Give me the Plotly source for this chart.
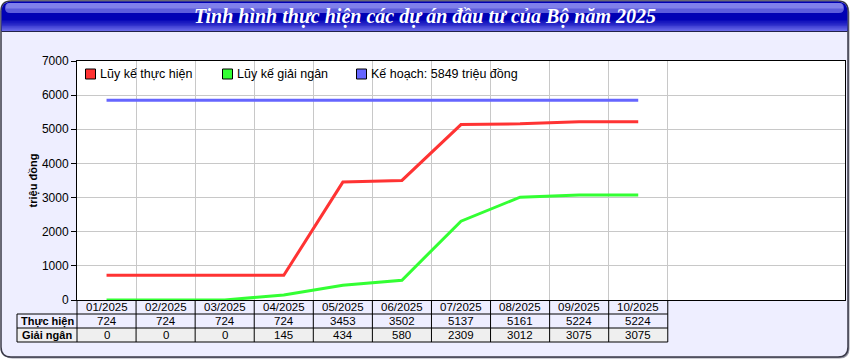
import plotly.graph_objects as go

# ---------------- data ----------------
months = ["01/2025", "02/2025", "03/2025", "04/2025", "05/2025",
          "06/2025", "07/2025", "08/2025", "09/2025", "10/2025"]
thuc_hien = [724, 724, 724, 724, 3453, 3502, 5137, 5161, 5224, 5224]
giai_ngan = [0, 0, 0, 145, 434, 580, 2309, 3012, 3075, 3075]
ke_hoach = [5849, 5849, 5849, 5849, 5849, 5849, 5849, 5849, 5849, 5849]
ke_hoach_total = 5849

series_names = ["Lũy kế thực hiện", "Lũy kế giải ngân", f"Kế hoạch: {ke_hoach_total} triệu đồng"]
row_labels = ["Thực hiện", "Giải ngân"]
title_text = "Tinh hình thực hiện các dự án đầu tư của Bộ năm 2025"
y_title = "triệu đồng"
y_ticks = [0, 1000, 2000, 3000, 4000, 5000, 6000, 7000]

# ---------------- layout geometry ----------------
W, H = 850, 360
PLOT_L, PLOT_R, PLOT_T, PLOT_B = 77, 845, 61, 300
XR = (-0.5, 12.5)
FONT = "Arial, Liberation Sans, sans-serif"
colors = ["#ff3333", "#33ff33", "#6666ff"]

def fx(x):
    return x / W

def fy(y):
    return 1 - y / H

def cat_px(v):
    return PLOT_L + (v - XR[0]) / (XR[1] - XR[0]) * (PLOT_R - PLOT_L)

def rpath(x0, y0, x1, y1, r, top=True, bottom=True):
    p = []
    if top:
        p.append(f"M{fx(x0+r)},{fy(y0)} L{fx(x1-r)},{fy(y0)} Q{fx(x1)},{fy(y0)} {fx(x1)},{fy(y0+r)}")
    else:
        p.append(f"M{fx(x0)},{fy(y0)} L{fx(x1)},{fy(y0)}")
    if bottom:
        p.append(f"L{fx(x1)},{fy(y1-r)} Q{fx(x1)},{fy(y1)} {fx(x1-r)},{fy(y1)} L{fx(x0+r)},{fy(y1)} Q{fx(x0)},{fy(y1)} {fx(x0)},{fy(y1-r)}")
    else:
        p.append(f"L{fx(x1)},{fy(y1)} L{fx(x0)},{fy(y1)}")
    if top:
        p.append(f"L{fx(x0)},{fy(y0+r)} Q{fx(x0)},{fy(y0)} {fx(x0+r)},{fy(y0)} Z")
    else:
        p.append("Z")
    return " ".join(p)

def mix(c1, c2, t):
    return "rgb(" + ",".join(str(round(a + (b - a) * t)) for a, b in zip(c1, c2)) + ")"

shapes = []
# frame shadow + frame
shapes.append(dict(type="path", xref="paper", yref="paper", layer="below",
                   path=rpath(2.5, 2.5, 849.5, 358.5, 10), fillcolor="#9a9aa8", line=dict(width=0)))
shapes.append(dict(type="path", xref="paper", yref="paper", layer="below",
                   path=rpath(1, 1, 848, 357, 10), fillcolor="#eeeeff", line=dict(color="#3a3a48", width=1.5)))
# white plot area
shapes.append(dict(type="rect", xref="paper", yref="paper", layer="below",
                   x0=fx(PLOT_L), x1=fx(PLOT_R), y0=fy(PLOT_B), y1=fy(PLOT_T),
                   fillcolor="white", line=dict(width=0)))
# title bar body
shapes.append(dict(type="path", xref="paper", yref="paper", layer="below",
                   path=rpath(1.5, 1.5, 847.5, 31, 10, bottom=False), fillcolor="#0000b4", line=dict(width=0)))
# lower gradient of title bar
dark, light = (0, 0, 180), (104, 104, 232)
n = 10
for k in range(n):
    y0 = 20 + k * 11 / n
    shapes.append(dict(type="rect", xref="paper", yref="paper", layer="below",
                       x0=fx(2), x1=fx(847), y0=fy(y0), y1=fy(y0 + 11 / n + 0.3),
                       fillcolor=mix(dark, light, (k + 1) / n), line=dict(width=0)))
# top gloss
shapes.append(dict(type="path", xref="paper", yref="paper", layer="below",
                   path=rpath(5, 3, 844, 13, 5), fillcolor="#5c5cdc", line=dict(width=0)))
shapes.append(dict(type="path", xref="paper", yref="paper", layer="below",
                   path=rpath(6, 3, 843, 8.5, 4, bottom=False), fillcolor="#8080ea", line=dict(width=0)))
shapes.append(dict(type="line", xref="paper", yref="paper", layer="below",
                   x0=fx(1.5), x1=fx(847.5), y0=fy(31.5), y1=fy(31.5), line=dict(color="#22224a", width=1)))

# ---------------- table ----------------
ROW_Y = [300, 314, 328, 342]
LBL_L = 17
tab_r = cat_px(len(months) - 0.5)
shapes.append(dict(type="rect", xref="paper", yref="paper", layer="below",
                   x0=fx(LBL_L), x1=fx(tab_r), y0=fy(ROW_Y[2]), y1=fy(ROW_Y[3]),
                   fillcolor="#efefef", line=dict(width=0)))
for yy in ROW_Y[1:]:
    shapes.append(dict(type="line", xref="paper", yref="paper", x0=fx(LBL_L), x1=fx(tab_r),
                       y0=fy(yy), y1=fy(yy), line=dict(color="black", width=1)))
for i in range(len(months) + 1):
    xx = cat_px(i - 0.5)
    shapes.append(dict(type="line", xref="paper", yref="paper", x0=fx(xx), x1=fx(xx),
                       y0=fy(ROW_Y[0]), y1=fy(ROW_Y[3]), line=dict(color="black", width=1)))
shapes.append(dict(type="line", xref="paper", yref="paper", x0=fx(LBL_L), x1=fx(LBL_L),
                   y0=fy(ROW_Y[1]), y1=fy(ROW_Y[3]), line=dict(color="black", width=1)))

annotations = []
rows = [months, [str(v) for v in thuc_hien], [str(v) for v in giai_ngan]]
for r, vals in enumerate(rows):
    yc = (ROW_Y[r] + ROW_Y[r + 1]) / 2
    for m, txt in zip(months, vals):
        annotations.append(dict(x=m, xref="x", y=fy(yc), yref="paper", text=txt, showarrow=False,
                                xanchor="center", yanchor="middle",
                                font=dict(family=FONT, size=11.5, color="black")))
for r, lbl in enumerate(row_labels):
    yc = (ROW_Y[r + 1] + ROW_Y[r + 2]) / 2
    annotations.append(dict(x=fx((LBL_L + PLOT_L) / 2), xref="paper", y=fy(yc), yref="paper",
                            text=f"<b>{lbl}</b>", showarrow=False, xanchor="center", yanchor="middle",
                            font=dict(family=FONT, size=11, color="black")))
# title
annotations.append(dict(x=0.5, xref="paper", y=fy(16.5), yref="paper", text=title_text, showarrow=False,
                        xanchor="center", yanchor="middle",
                        font=dict(family="Times New Roman, Liberation Serif, serif", size=20,
                                  color="white", style="italic", weight="bold")))

# ---------------- legend (drawn as keys + text) ----------------
LEG_X = [85, 222, 356]
LEG_Y = 74
for lx, name, c in zip(LEG_X, series_names, colors):
    shapes.append(dict(type="rect", xref="paper", yref="paper",
                       x0=fx(lx + 0.5), x1=fx(lx + 10.5), y0=fy(LEG_Y - 5), y1=fy(LEG_Y + 5),
                       fillcolor=c, line=dict(color="black", width=1)))
    annotations.append(dict(x=fx(lx + 13), xref="paper", y=fy(LEG_Y), yref="paper", text=name,
                            showarrow=False, xanchor="left", yanchor="middle",
                            font=dict(family=FONT, size=12.5, color="black")))

# ---------------- traces ----------------
fig = go.Figure()
for vals, name, c in zip([thuc_hien, giai_ngan, ke_hoach], series_names, colors):
    fig.add_trace(go.Scatter(x=months, y=vals, mode="lines", name=name, line=dict(color=c, width=3),
                             showlegend=False))

fig.update_layout(
    width=W, height=H,
    margin=dict(l=0, r=0, t=0, b=0, autoexpand=False),
    paper_bgcolor="white", plot_bgcolor="white",
    shapes=shapes, annotations=annotations,
    showlegend=False,
    xaxis=dict(domain=[fx(PLOT_L), fx(PLOT_R)], type="category", categoryorder="array",
               categoryarray=months, range=list(XR), tickson="boundaries",
               showticklabels=False, ticks="", showgrid=True, gridcolor="#c8c8c8", gridwidth=1,
               showline=True, mirror=True, linecolor="black", linewidth=1, zeroline=False),
    yaxis=dict(domain=[fy(PLOT_B), fy(PLOT_T)], range=[0, 7000], tickvals=y_ticks,
               ticks="outside", ticklen=5, tickcolor="black",
               tickfont=dict(family=FONT, size=12, color="black"),
               showgrid=True, gridcolor="#c8c8c8", gridwidth=1,
               showline=True, mirror=True, linecolor="black", linewidth=1, zeroline=False,
               title=dict(text=y_title, font=dict(family=FONT, size=11, color="black", weight="bold"),
                          standoff=2)),
    hovermode="closest",
)

fig.write_html("out.html")
